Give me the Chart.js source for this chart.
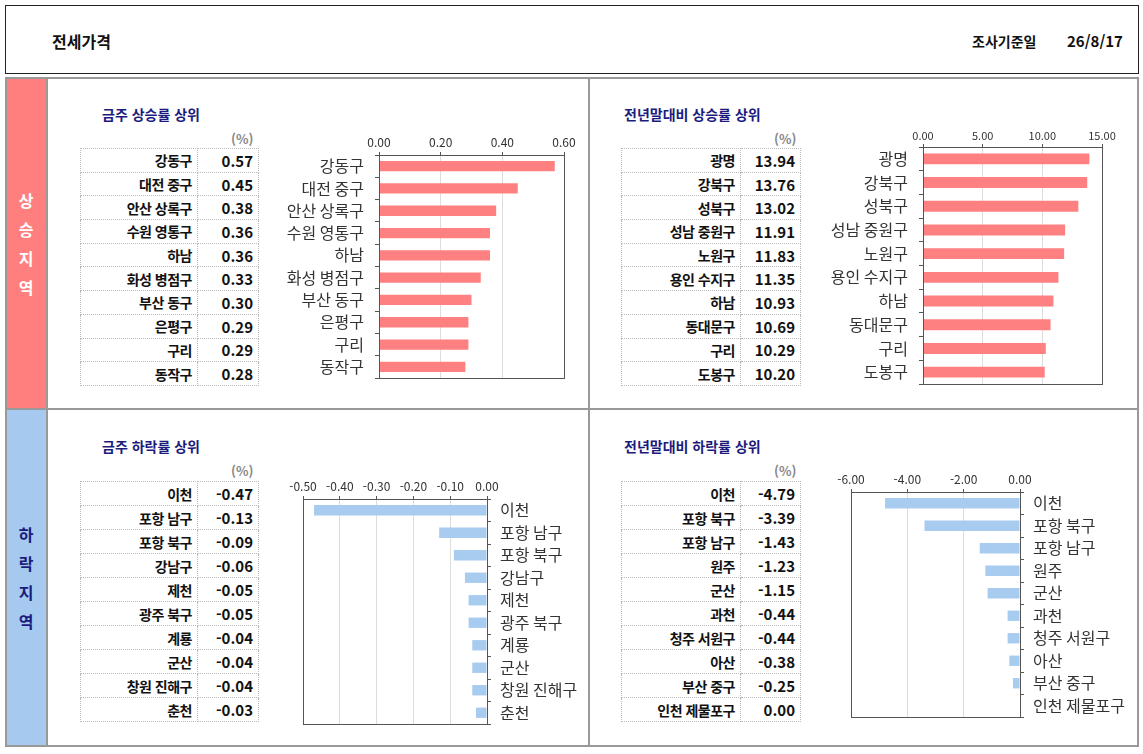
<!DOCTYPE html>
<html lang="ko">
<head>
<meta charset="utf-8">
<title>전세가격</title>
<script src="https://cdn.jsdelivr.net/npm/chart.js@4.4.1/dist/chart.umd.min.js"></script>
<style>
  body { margin: 0; background: #fff; font-family: "Noto Sans CJK KR", "Noto Sans", sans-serif; }
  #page { position: relative; width: 1143px; height: 754px; overflow: hidden; }
  .box { position: absolute; box-sizing: border-box; }
  .txt { position: absolute; white-space: nowrap; }
  .title { color: #1b1b7e; font-weight: bold; font-size: 14px; }
  .unit { color: #888; font-size: 13px; font-weight: bold; }
  table.rank { position: absolute; border-collapse: collapse; font-weight: bold; color: #111; }
  table.rank td { border: 1px dotted #bbb; padding: 0 5px; text-align: right; box-sizing: border-box; }
  table.rank td.nm { font-size: 14px; letter-spacing: -0.5px; }
  table.rank td.vl { font-size: 15px; }
  .side { position: absolute; left: 5px; width: 42px; text-align: center; font-weight: bold; font-size: 16px; line-height: 29px; }
  canvas { position: absolute; }
</style>
</head>
<body>
<div id="page">
  <!-- 머리글 -->
  <div class="box" style="left:5px;top:5px;width:1134px;height:69px;border:1px solid #222;"></div>
  <div class="txt" style="left:52px;top:29px;font-size:16px;font-weight:bold;color:#111;">전세가격</div>
  <div class="txt" style="left:972px;top:31px;font-size:14px;font-weight:bold;color:#111;">조사기준일</div>
  <div class="txt" style="left:1067px;top:30px;font-size:15px;font-weight:bold;color:#111;">26/8/17</div>

  <!-- 본문 틀 -->
  <div class="box" style="left:5px;top:77px;width:42px;height:332px;background:#ff7f7f;"></div>
  <div class="box" style="left:5px;top:409px;width:42px;height:338px;background:#a6c9ef;"></div>
  <div class="box" style="left:5px;top:77px;width:1134px;height:670px;border:2px solid #999;"></div>
  <div class="box" style="left:46px;top:77px;width:2px;height:670px;background:#999;"></div>
  <div class="box" style="left:588px;top:77px;width:2px;height:670px;background:#999;"></div>
  <div class="box" style="left:5px;top:408px;width:1134px;height:2px;background:#999;"></div>

  <div class="side" style="top:186px;color:#fff;">상<br>승<br>지<br>역</div>
  <div class="side" style="top:520px;color:#1b1b7e;">하<br>락<br>지<br>역</div>

  <div class="txt title" style="left:102px;top:104px;">금주 상승률 상위</div>
  <div class="txt title" style="left:624px;top:104px;">전년말대비 상승률 상위</div>
  <div class="txt title" style="left:102px;top:436px;">금주 하락률 상위</div>
  <div class="txt title" style="left:624px;top:436px;">전년말대비 하락률 상위</div>

  <div class="txt unit" style="left:231px;top:129px;">(%)</div>
  <div class="txt unit" style="left:774px;top:129px;">(%)</div>
  <div class="txt unit" style="left:231px;top:461px;">(%)</div>
  <div class="txt unit" style="left:774px;top:461px;">(%)</div>

  <table class="rank" id="t1" style="left:80px;top:148px;"></table>
  <table class="rank" id="t2" style="left:621px;top:148px;"></table>
  <table class="rank" id="t3" style="left:80px;top:481px;"></table>
  <table class="rank" id="t4" style="left:621px;top:481px;"></table>

  <canvas id="c1" width="320" height="255" style="left:270px;top:130px;"></canvas>
  <canvas id="c2" width="320" height="270" style="left:815px;top:122px;"></canvas>
  <canvas id="c3" width="320" height="258" style="left:275px;top:474px;"></canvas>
  <canvas id="c4" width="313" height="258" style="left:823px;top:467px;"></canvas>
</div>

<script>
// 금주 상승률 상위
const weekUpNames = ['강동구', '대전 중구', '안산 상록구', '수원 영통구', '하남', '화성 병점구', '부산 동구', '은평구', '구리', '동작구'];
const weekUpValues = [0.57, 0.45, 0.38, 0.36, 0.36, 0.33, 0.30, 0.29, 0.29, 0.28];

// 전년말대비 상승률 상위
const yearUpNames = ['광명', '강북구', '성북구', '성남 중원구', '노원구', '용인 수지구', '하남', '동대문구', '구리', '도봉구'];
const yearUpValues = [13.94, 13.76, 13.02, 11.91, 11.83, 11.35, 10.93, 10.69, 10.29, 10.20];

// 금주 하락률 상위
const weekDownNames = ['이천', '포항 남구', '포항 북구', '강남구', '제천', '광주 북구', '계룡', '군산', '창원 진해구', '춘천'];
const weekDownValues = [-0.47, -0.13, -0.09, -0.06, -0.05, -0.05, -0.04, -0.04, -0.04, -0.03];

// 전년말대비 하락률 상위
const yearDownNames = ['이천', '포항 북구', '포항 남구', '원주', '군산', '과천', '청주 서원구', '아산', '부산 중구', '인천 제물포구'];
const yearDownValues = [-4.79, -3.39, -1.43, -1.23, -1.15, -0.44, -0.44, -0.38, -0.25, 0.00];

// 표 그리기
function fillTable(id, names, values, w1, w2, rowH) {
    const t = document.getElementById(id);
    names.forEach((n, i) => {
        const tr = document.createElement('tr');
        tr.style.height = rowH + 'px';
        tr.innerHTML = `<td class="nm" style="width:${w1}px">${n}</td><td class="vl" style="width:${w2}px">${values[i].toFixed(2)}</td>`;
        t.appendChild(tr);
    });
}
fillTable('t1', weekUpNames, weekUpValues, 117, 61, 23.7);
fillTable('t2', yearUpNames, yearUpValues, 119, 60, 23.7);
fillTable('t3', weekDownNames, weekDownValues, 117, 61, 24);
fillTable('t4', yearDownNames, yearDownValues, 119, 60, 24);

// 그림 영역 테두리
const frame = {
    id: 'frame',
    afterDraw(chart) {
        const a = chart.chartArea, ctx = chart.ctx;
        ctx.save();
        ctx.strokeStyle = '#555';
        ctx.lineWidth = 1;
        ctx.strokeRect(Math.round(a.left) + 0.5, Math.round(a.top) + 0.5, Math.round(a.right - a.left), Math.round(a.bottom - a.top));
        ctx.restore();
    }
};

function makeChart(id, names, values, o) {
    const ctx = document.getElementById(id).getContext('2d');
    return new Chart(ctx, {
        type: 'bar',
        data: {
            labels: names,
            datasets: [{
                data: values,
                backgroundColor: o.color,
                borderWidth: 0,
                categoryPercentage: 1,
                barPercentage: 0.46
            }]
        },
        options: {
            indexAxis: 'y',
            responsive: false,
            animation: false,
            layout: { padding: o.pad },
            plugins: { legend: { display: false }, tooltip: { enabled: false } },
            scales: {
                x: {
                    position: 'top',
                    min: o.min, max: o.max,
                    afterFit: s => { s.height = 25; s.paddingLeft = 0; s.paddingRight = 0; },
                    ticks: {
                        stepSize: o.step,
                        color: '#333',
                        font: { size: o.tickSize, family: '"Noto Sans CJK KR", sans-serif' },
                        padding: 2,
                        callback: v => Number(v).toFixed(2)
                    },
                    grid: { color: '#ddd', tickLength: 3, tickColor: '#555' },
                    border: { color: '#555' }
                },
                y: {
                    position: o.side,
                    afterFit: s => { s.width = o.yw; s.paddingTop = 0; s.paddingBottom = 0; },
                    ticks: {
                        color: '#333',
                        font: { size: 16, family: '"Noto Sans CJK KR", sans-serif' },
                        padding: o.side === 'left' ? 11 : 9
                    },
                    grid: { drawOnChartArea: false, offset: true, tickLength: 4, tickColor: '#555' },
                    border: { color: '#555' }
                }
            }
        },
        plugins: [frame]
    });
}

const pink = '#ff8080';
const blue = '#a8cbf0';
makeChart('c1', weekUpNames, weekUpValues, { color: pink, min: 0, max: 0.6, step: 0.2, tickSize: 12, side: 'left', yw: 109, pad: { right: 26, bottom: 7 } });
makeChart('c2', yearUpNames, yearUpValues, { color: pink, min: 0, max: 15, step: 5, tickSize: 11, side: 'left', yw: 108, pad: { right: 33, bottom: 8 } });
makeChart('c3', weekDownNames, weekDownValues, { color: blue, min: -0.5, max: 0, step: 0.1, tickSize: 12, side: 'right', yw: 108, pad: { left: 28, bottom: 8 } });
makeChart('c4', yearDownNames, yearDownValues, { color: blue, min: -6, max: 0, step: 2, tickSize: 12, side: 'right', yw: 116, pad: { left: 28, bottom: 8 } });
</script>
</body>
</html>
